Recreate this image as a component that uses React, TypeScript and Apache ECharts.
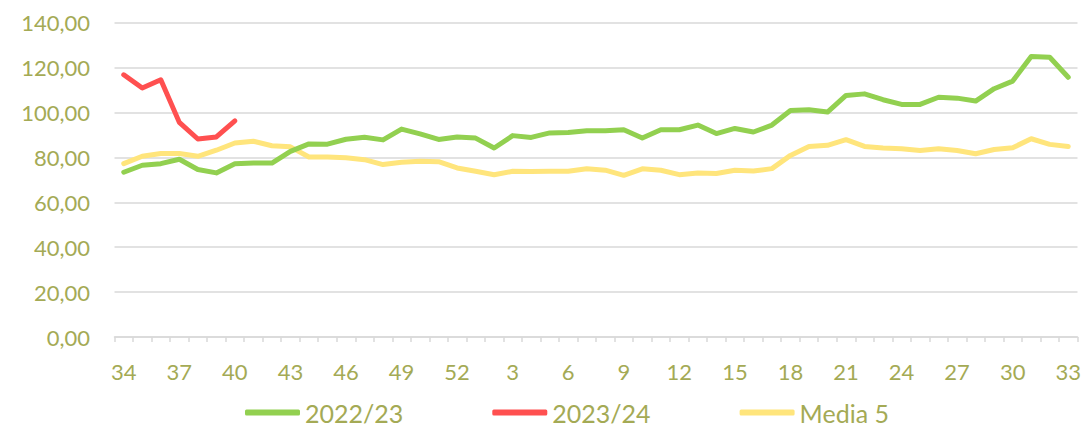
import React, { useEffect, useRef } from "react";
import * as echarts from "echarts";

const weeks = [
  "34", "35", "36", "37", "38", "39", "40", "41", "42", "43", "44", "45", "46", "47", "48", "49", "50", "51", "52",
  "1", "2", "3", "4", "5", "6", "7", "8", "9", "10", "11", "12", "13", "14", "15", "16", "17", "18", "19", "20",
  "21", "22", "23", "24", "25", "26", "27", "28", "29", "30", "31", "32", "33",
];

const season2223 = [
  73.4, 76.5, 77.2, 79.2, 74.6, 73.1, 77.2, 77.5, 77.5, 82.7, 86.0, 85.9, 88.1, 89.0, 87.8, 92.6, 90.5, 88.0, 89.1,
  88.6, 84.2, 89.7, 88.9, 90.9, 91.1, 91.9, 91.9, 92.3, 88.6, 92.3, 92.3, 94.4, 90.6, 92.9, 91.3, 94.4, 100.9, 101.2,
  100.2, 107.6, 108.3, 105.7, 103.6, 103.6, 106.8, 106.4, 105.1, 110.6, 114.0, 124.9, 124.6, 115.7,
];

const season2324 = [116.8, 110.9, 114.6, 95.6, 88.2, 89.1, 96.3];

const media5 = [
  77.2, 80.5, 81.7, 81.7, 80.5, 83.2, 86.4, 87.2, 85.2, 84.7, 80.2, 80.2, 79.8, 79.0, 76.8, 77.8, 78.3, 78.1, 75.3,
  73.8, 72.3, 73.8, 73.7, 73.8, 73.8, 74.9, 74.3, 72.0, 74.9, 74.3, 72.3, 73.1, 72.8, 74.3, 73.9, 75.0, 80.9, 84.9,
  85.4, 87.9, 84.9, 84.2, 83.9, 83.1, 83.9, 83.1, 81.6, 83.5, 84.3, 88.3, 85.8, 84.9,
];

const seriesNames = ["2022/23", "2023/24", "Media 5"];
const seriesColors = ["#92D050", "#FF5050", "#FFE57C"];

const TEXT = "#A4AA55";
const FONT = "Lato";

export default function App() {
  const ref = useRef<HTMLDivElement>(null);
  useEffect(() => {
    if (!ref.current) return;
    const chart = echarts.init(ref.current, null, { renderer: "svg" });
    const datasets = [season2223, season2324, media5];
    chart.setOption({
      animation: false,
      backgroundColor: "#ffffff",
      grid: { left: 114.5, right: 8.5, top: 22.7, bottom: 91 },
      legend: {
        top: 400,
        left: 245,
        padding: 0,
        itemWidth: 55,
        itemHeight: 6,
        itemGap: 89,
        icon: "roundRect",
        textStyle: { color: TEXT, fontSize: 25, fontFamily: FONT, lineHeight: 25 },
        data: seriesNames,
      },
      xAxis: {
        type: "category",
        data: weeks,
        boundaryGap: true,
        axisLine: { lineStyle: { color: "#D9D9D9", width: 1.5 } },
        axisTick: { show: true, interval: 0, length: 5, lineStyle: { color: "#D9D9D9", width: 1.5 } },
        axisLabel: { interval: 2, color: TEXT, fontSize: 22, fontFamily: FONT, margin: 23 },
      },
      yAxis: {
        type: "value",
        min: 0,
        max: 140,
        interval: 20,
        axisLine: { show: false },
        axisTick: { show: false },
        splitLine: { lineStyle: { color: "#D9D9D9", width: 1.5 } },
        axisLabel: {
          color: TEXT,
          fontSize: 22,
          fontFamily: FONT,
          margin: 24.5,
          formatter: (v: number) => v.toFixed(2).replace(".", ","),
        },
      },
      series: seriesNames.map((name, i) => ({
        name,
        type: "line",
        data: datasets[i],
        symbol: "none",
        z: i === 2 ? 1 : i === 0 ? 2 : 3,
        itemStyle: { color: seriesColors[i] },
        lineStyle: { color: seriesColors[i], width: 5, cap: "round", join: "round" },
      })),
    });
    return () => chart.dispose();
  }, []);
  return <div ref={ref} style={{ position: "fixed", left: 0, top: 0, width: 1086, height: 428 }} />;
}
